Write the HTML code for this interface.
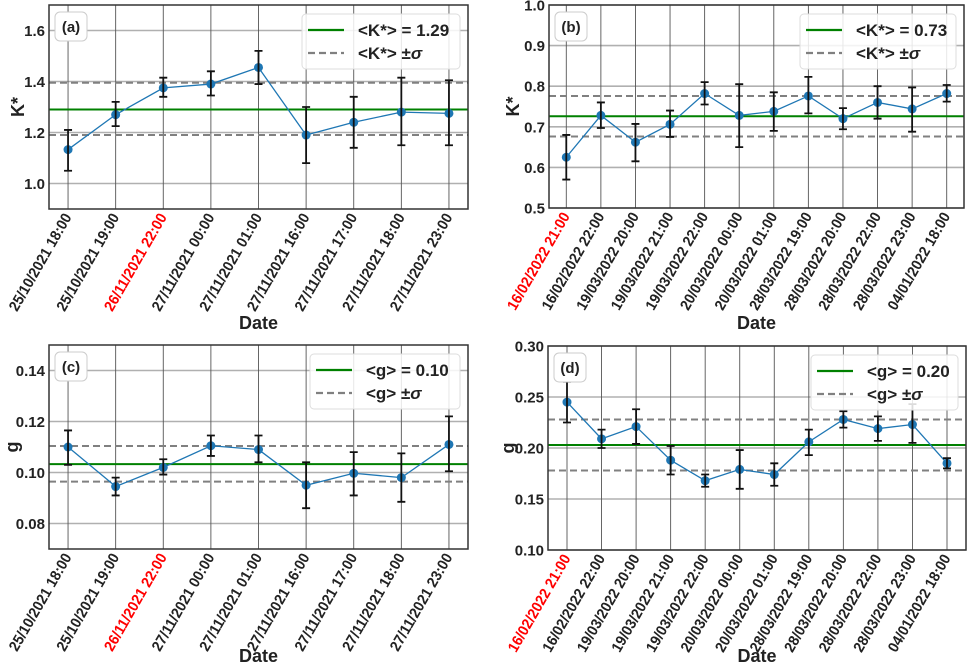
<!DOCTYPE html>
<html><head><meta charset="utf-8"><style>
body{margin:0;background:#fff;}
svg{display:block;font-family:"Liberation Sans",sans-serif;}
</style></head><body>
<svg id="chart" width="968" height="669" viewBox="0 0 968 669" xmlns="http://www.w3.org/2000/svg"></svg>
<script>
const labelsA = ["25/10/2021 18:00","25/10/2021 19:00","26/11/2021 22:00","27/11/2021 00:00","27/11/2021 01:00","27/11/2021 16:00","27/11/2021 17:00","27/11/2021 18:00","27/11/2021 23:00"];
const labelsB = ["16/02/2022 21:00","16/02/2022 22:00","19/03/2022 20:00","19/03/2022 21:00","19/03/2022 22:00","20/03/2022 00:00","20/03/2022 01:00","28/03/2022 19:00","28/03/2022 20:00","28/03/2022 22:00","28/03/2022 23:00","04/01/2022 18:00"];
const redA = 2, redB = 0;
const kA = [1.133,1.27,1.375,1.39,1.455,1.19,1.24,1.28,1.275];
const kAhi = [1.21,1.32,1.415,1.44,1.52,1.30,1.34,1.415,1.405];
const kAlo = [1.05,1.225,1.34,1.345,1.39,1.08,1.14,1.15,1.15];
const kAstats = [1.29,1.395,1.19];
const kB = [0.625,0.728,0.662,0.706,0.782,0.728,0.738,0.776,0.72,0.76,0.744,0.782];
const kBhi = [0.68,0.76,0.707,0.74,0.81,0.805,0.785,0.823,0.746,0.80,0.797,0.803];
const kBlo = [0.57,0.697,0.615,0.675,0.755,0.65,0.69,0.733,0.694,0.72,0.688,0.762];
const kBstats = [0.726,0.776,0.676];
const gC = [0.110,0.0945,0.102,0.1105,0.109,0.095,0.0997,0.098,0.111];
const gChi = [0.1165,0.098,0.1052,0.1145,0.1145,0.104,0.108,0.1075,0.122];
const gClo = [0.103,0.091,0.0992,0.1065,0.104,0.086,0.091,0.0885,0.1005];
const gCstats = [0.1033,0.1104,0.0964];
const gD = [0.245,0.209,0.221,0.188,0.168,0.179,0.174,0.206,0.228,0.219,0.223,0.185];
const gDhi = [0.265,0.218,0.238,0.202,0.174,0.198,0.185,0.218,0.236,0.231,0.243,0.190];
const gDlo = [0.225,0.200,0.204,0.174,0.162,0.160,0.163,0.193,0.220,0.207,0.205,0.180];
const gDstats = [0.203,0.228,0.178];
const ticksA = [1.0,1.2,1.4,1.6], ticksB=[0.5,0.6,0.7,0.8,0.9,1.0], ticksC=[0.08,0.10,0.12,0.14], ticksD=[0.10,0.15,0.20,0.25,0.30];

const NS="http://www.w3.org/2000/svg";
const svg=document.getElementById('chart');
function el(tag,attrs,parent,txt){const e=document.createElementNS(NS,tag);for(const k in attrs)e.setAttribute(k,attrs[k]);if(txt!==undefined)e.textContent=txt;(parent||svg).appendChild(e);return e;}

function panel(o){
  const g=el('g',{});
  
  
  const n=o.vals.length;
  const xs=i=>o.L+(i-o.xmin)/(o.xmax-o.xmin)*(o.R-o.L);
  const ys=v=>o.B-(v-o.ymin)/(o.ymax-o.ymin)*(o.B-o.T);
  o.ticks.forEach(t=>{const y=ys(t);
    const gl=el('line',{x1:o.L,x2:o.R,y1:y,y2:y,stroke:'#b0b0b0','stroke-width':1.6},g);
    
    const tl=el('text',{x:o.L-4,y:y+5.5,'text-anchor':'end','font-size':15,'font-weight':'bold',fill:'#222'},g,o.fmt(t));
    
  });
  for(let i=0;i<n;i++){const x=xs(i);
    const gl=el('line',{x1:x,x2:x,y1:o.T,y2:o.B,stroke:'#555','stroke-width':0.9},g);
    
    const tl=el('text',{transform:`translate(${x+4},${o.B+8}) rotate(-60)`,'text-anchor':'end','font-size':15,'font-weight':'bold',textLength:110,lengthAdjust:'spacingAndGlyphs',fill:i===o.red?'#ff0000':'#222'},g,o.labels[i]);
    
  }
  const m=el('line',{x1:o.L,x2:o.R,y1:ys(o.stats[0]),y2:ys(o.stats[0]),stroke:'#008000','stroke-width':2},g);
  
  [1,2].forEach(k=>{const d=el('line',{x1:o.L,x2:o.R,y1:ys(o.stats[k]),y2:ys(o.stats[k]),stroke:'#808080','stroke-width':2,'stroke-dasharray':'7,4'},g);
    });
  const pts=o.vals.map((v,i)=>xs(i)+','+ys(v)).join(' ');
  const pl=el('polyline',{points:pts,fill:'none',stroke:'#1f77b4','stroke-width':1.3},g);
  
  o.vals.forEach((v,i)=>{const x=xs(i);
    const c=el('circle',{cx:x,cy:ys(v),r:4.5,fill:'#1f77b4'},g);
    
    const e=el('path',{d:`M${x},${ys(o.hi[i])}V${ys(o.lo[i])}M${x-4},${ys(o.hi[i])}H${x+4}M${x-4},${ys(o.lo[i])}H${x+4}`,stroke:'#111','stroke-width':1.8,fill:'none'},g);
    
  });
  const f=el('rect',{x:o.L,y:o.T,width:o.R-o.L,height:o.B-o.T,fill:'none',stroke:'#333','stroke-width':1.5},g);
  
  const tb=el('rect',{x:o.L+6,y:o.T+7,width:32,height:29,rx:5,fill:'#fff',stroke:'#ccc','stroke-width':1},g);
  
  const tt=el('text',{x:o.L+22,y:o.T+27,'text-anchor':'middle','font-size':15,'font-weight':'bold',fill:'#222'},g,'('+o.tag+')');
  
  const lx=o.legX, ly=o.T+9;
  const lb=el('rect',{x:lx,y:ly,width:o.R-8-lx,height:55,rx:4,fill:'#fff','fill-opacity':0.85,stroke:'#ddd'},g);
  
  el('line',{x1:lx+6,x2:lx+42,y1:ly+16,y2:ly+16,stroke:'#008000','stroke-width':2.2},g);
  el('line',{x1:lx+6,x2:lx+42,y1:ly+39,y2:ly+39,stroke:'#808080','stroke-width':2.2,'stroke-dasharray':'7,4'},g);
  const t1=el('text',{x:lx+56,y:ly+22,'font-size':17,'font-weight':'bold',fill:'#222'},g,o.leg1);
  
  const t2=el('text',{x:lx+56,y:ly+45,'font-size':17,'font-weight':'bold',fill:'#222'},g);
  
  t2.appendChild(document.createTextNode(o.leg2+' \u00b1'));
  const s=document.createElementNS(NS,'tspan');s.setAttribute('font-style','italic');s.textContent='\u03c3';t2.appendChild(s);
  const yt=el('text',{transform:`translate(${o.yTitleX},${(o.T+o.B)/2}) rotate(-90)`,'text-anchor':'middle','font-size':18,'font-weight':'bold',fill:'#222'},g,o.ytitle);
  
  const xt=el('text',{x:(o.L+o.R)/2,y:o.dateY,'text-anchor':'middle','font-size':18,'font-weight':'bold',fill:'#222'},g,'Date');
  
}
const f1=v=>v.toFixed(1), f2=v=>v.toFixed(2);
panel({tag:'a',L:49,R:468,T:5,B:209,xmin:-0.4,xmax:8.4,ymin:0.9,ymax:1.7,vals:kA,hi:kAhi,lo:kAlo,stats:kAstats,ticks:ticksA,fmt:f1,labels:labelsA,red:redA,legX:302,leg1:'<K*> = 1.29',leg2:'<K*>',ytitle:'K*',yTitleX:24,dateY:329});
panel({tag:'b',L:549,R:964,T:5,B:208,xmin:-0.5,xmax:11.5,ymin:0.5,ymax:1.0,vals:kB,hi:kBhi,lo:kBlo,stats:kBstats,ticks:ticksB,fmt:f1,labels:labelsB,red:redB,legX:800,leg1:'<K*> = 0.73',leg2:'<K*>',ytitle:'K*',yTitleX:519,dateY:329});
panel({tag:'c',L:49,R:468,T:345,B:549,xmin:-0.4,xmax:8.4,ymin:0.07,ymax:0.15,vals:gC,hi:gChi,lo:gClo,stats:gCstats,ticks:ticksC,fmt:f2,labels:labelsA,red:redA,legX:310,leg1:'<g> = 0.10',leg2:'<g>',ytitle:'g',yTitleX:18,dateY:662});
panel({tag:'d',L:548,R:966,T:346,B:550,xmin:-0.55,xmax:11.55,ymin:0.10,ymax:0.30,vals:gD,hi:gDhi,lo:gDlo,stats:gDstats,ticks:ticksD,fmt:f2,labels:labelsB,red:redB,legX:811,leg1:'<g> = 0.20',leg2:'<g>',ytitle:'g',yTitleX:514,dateY:662});
</script>
</body></html>
